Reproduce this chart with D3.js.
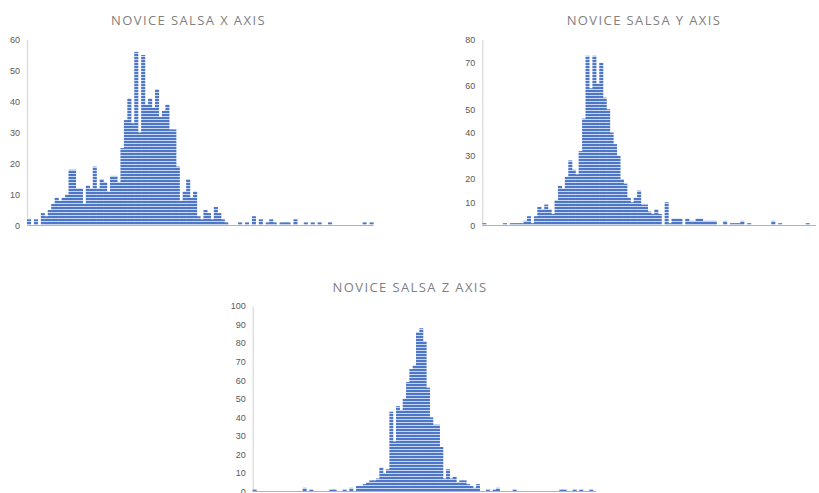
<!DOCTYPE html>
<html>
<head>
<meta charset="utf-8">
<script src="https://cdn.jsdelivr.net/npm/d3@7"></script>
<style>
  html, body { margin: 0; padding: 0; background: #ffffff; }
  svg { display: block; }
</style>
</head>
<body>
<svg id="chart" width="819" height="493"></svg>
<script>
// Bin counts per histogram (left to right)
const xAxisCounts = [
  2, 0, 2, 0, 4, 3, 5, 7, 9, 8,
  9, 10, 18, 18, 12, 12, 7, 13, 12, 19,
  12, 15, 14, 11, 16, 16, 14, 25, 34, 41,
  33, 56, 30, 55, 39, 41, 38, 44, 35, 37,
  39, 31, 31, 19, 8, 11, 15, 9, 11, 3,
  2, 5, 4, 2, 6, 4, 2, 1, 0, 0,
  0, 1, 0, 1, 0, 3, 0, 2, 0, 1,
  2, 1, 0, 1, 1, 1, 0, 2, 0, 0,
  1, 0, 1, 0, 1, 0, 0, 1, 0, 0,
  0, 0, 0, 0, 0, 0, 0, 1, 0, 1
];

const yAxisCounts = [
  1, 0, 0, 0, 0, 0, 1, 0, 1, 1,
  1, 1, 2, 4, 1, 4, 8, 7, 9, 7,
  5, 11, 17, 16, 21, 28, 24, 22, 32, 46,
  73, 59, 73, 61, 70, 55, 50, 40, 35, 30,
  20, 18, 12, 10, 12, 15, 9, 9, 6, 5,
  7, 5, 0, 10, 1, 3, 3, 3, 0, 3,
  2, 2, 3, 3, 2, 2, 2, 2, 0, 0,
  2, 0, 1, 1, 1, 2, 0, 1, 0, 0,
  0, 0, 0, 0, 2, 0, 1, 0, 0, 0,
  0, 0, 0, 0, 1, 0, 0
];

const zAxisCounts = [
  1, 0, 0, 0, 0, 0, 0, 0, 0, 0,
  0, 0, 0, 0, 0, 2, 0, 1, 0, 0,
  0, 0, 0, 1, 1, 0, 0, 1, 0, 2,
  0, 3, 3, 4, 5, 6, 6, 7, 13, 10,
  12, 43, 27, 46, 44, 50, 59, 66, 68, 86,
  88, 81, 56, 40, 36, 36, 24, 7, 12, 7,
  8, 5, 6, 6, 4, 3, 2, 4, 0, 0,
  1, 0, 1, 2, 0, 0, 0, 0, 1, 0,
  0, 0, 0, 0, 0, 0, 0, 0, 0, 0,
  0, 0, 1, 1, 0, 0, 1, 0, 1, 0,
  0, 1, 0
];

const titles = ["NOVICE SALSA X AXIS", "NOVICE SALSA Y AXIS", "NOVICE SALSA Z AXIS"];
const yMaxima = [60, 80, 100];
const yTickSteps = [10, 10, 10];

// Panel geometry
const panels = [
  { counts: xAxisCounts, title: titles[0], yMax: yMaxima[0], step: yTickSteps[0],
    left: 27, right: 373, top: 39.5, bottom: 225.5, titleX: 188.5, titleY: 25 },
  { counts: yAxisCounts, title: titles[1], yMax: yMaxima[1], step: yTickSteps[1],
    left: 482.3, right: 816, top: 39.5, bottom: 225.5, titleX: 644, titleY: 25 },
  { counts: zAxisCounts, title: titles[2], yMax: yMaxima[2], step: yTickSteps[2],
    left: 252.7, right: 596, top: 306, bottom: 491.5, titleX: 410, titleY: 291.5 }
];

const svg = d3.select("#chart");

// Narrow horizontal stripe fill, tiled in page space so stripes line up across bars
const defs = svg.append("defs");
const pat = defs.append("pattern")
  .attr("id", "hstripe")
  .attr("patternUnits", "userSpaceOnUse")
  .attr("width", 819).attr("height", 3);
pat.append("rect").attr("width", 819).attr("height", 3).attr("fill", "#c9d6f0");
pat.append("rect").attr("width", 819).attr("height", 2).attr("fill", "#4d76c7");

panels.forEach(p => {
  const g = svg.append("g");

  const x = d3.scaleBand()
    .domain(d3.range(p.counts.length))
    .range([p.left, p.right])
    .paddingInner(0).paddingOuter(0);

  const y = d3.scaleLinear()
    .domain([0, p.yMax])
    .range([p.bottom, p.top]);

  // Title
  g.append("text")
    .attr("x", p.titleX).attr("y", p.titleY)
    .attr("text-anchor", "middle")
    .attr("font-family", "'Open Sans', 'Liberation Sans', sans-serif")
    .attr("font-size", 13)
    .attr("letter-spacing", 1.4)
    .attr("fill", "#808080")
    .text(p.title);

  // Value axis
  const yAxis = d3.axisLeft(y)
    .tickValues(d3.range(0, p.yMax + 1, p.step))
    .tickSizeInner(0).tickSizeOuter(0)
    .tickPadding(7);
  const ya = g.append("g")
    .attr("transform", `translate(${p.left},0)`)
    .call(yAxis);
  ya.select(".domain").attr("stroke", "#d9d9d9").attr("stroke-width", 1.2);
  ya.selectAll("text")
    .attr("font-family", "'Liberation Sans', Arial, sans-serif")
    .attr("font-size", 9)
    .attr("fill", "#595959");

  // Bars (slightly widened so neighbouring bins join without seams)
  g.append("g").selectAll("rect")
    .data(p.counts)
    .join("rect")
    .attr("x", (d, i) => x(i))
    .attr("width", x.bandwidth() + 0.6)
    .attr("y", d => y(d))
    .attr("height", d => y(0) - y(d))
    .attr("fill", "url(#hstripe)");

  // Baseline
  g.append("line")
    .attr("x1", p.left).attr("x2", p.right)
    .attr("y1", y(0)).attr("y2", y(0))
    .attr("stroke", "#9db3e0")
    .attr("stroke-width", 1);
});
</script>
</body>
</html>
